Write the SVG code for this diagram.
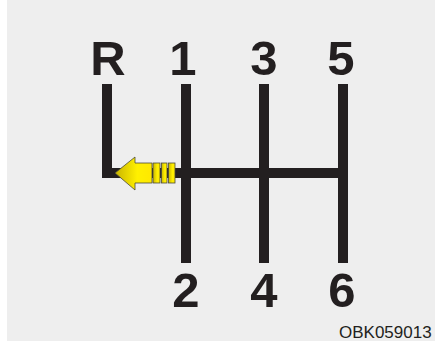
<svg xmlns="http://www.w3.org/2000/svg" width="437" height="341" viewBox="0 0 437 341">
<defs>
<style>
.bar{fill:#231f20}
.lbl{font-family:"Liberation Sans",Arial,sans-serif;font-weight:bold;font-size:49px;fill:#231f20;text-anchor:middle}
.code{font-family:"Liberation Sans",Arial,sans-serif;font-size:17px;fill:#231f20}
.arr{fill:url(#yg);stroke:#4a4a3a;stroke-width:0.8}
</style>
<linearGradient id="yg" x1="0" y1="0" x2="1" y2="0">
<stop offset="0" stop-color="#c9b400"/>
<stop offset="0.6" stop-color="#fff000"/>
<stop offset="1" stop-color="#ffe800"/>
</linearGradient>
</defs>
<rect x="0" y="0" width="437" height="341" fill="#ffffff"/>
<rect x="7" y="0" width="428" height="341" fill="#eeeeee"/>
<g id="connectors">
<rect class="bar" x="102" y="84" width="10" height="94"/>
<rect class="bar" x="102" y="168" width="246" height="10"/>
<rect class="bar" x="181" y="84" width="10" height="179"/>
<rect class="bar" x="259" y="84" width="10" height="179"/>
<rect class="bar" x="338" y="84" width="10" height="179"/>
</g>
<g id="arrow">
<path class="arr" d="M115,173 L135,157 L135,163 L152,163 L152,183 L135,183 L135,190 Z"/>
<rect class="arr" x="153" y="163" width="7" height="20"/>
<rect class="arr" x="161.5" y="163" width="5.5" height="20"/>
<rect class="arr" x="168.5" y="163" width="6.5" height="20"/>
</g>
<g id="gear-R"><text class="lbl" x="108" y="75">R</text></g>
<g id="gear-1"><text class="lbl" x="183" y="75">1</text></g>
<g id="gear-3"><text class="lbl" x="264" y="75">3</text></g>
<g id="gear-5"><text class="lbl" x="341" y="75">5</text></g>
<g id="gear-2"><text class="lbl" x="186" y="307">2</text></g>
<g id="gear-4"><text class="lbl" x="264" y="307">4</text></g>
<g id="gear-6"><text class="lbl" x="342" y="307">6</text></g>
<g id="code"><text class="code" x="339" y="338">OBK059013</text></g>
</svg>
